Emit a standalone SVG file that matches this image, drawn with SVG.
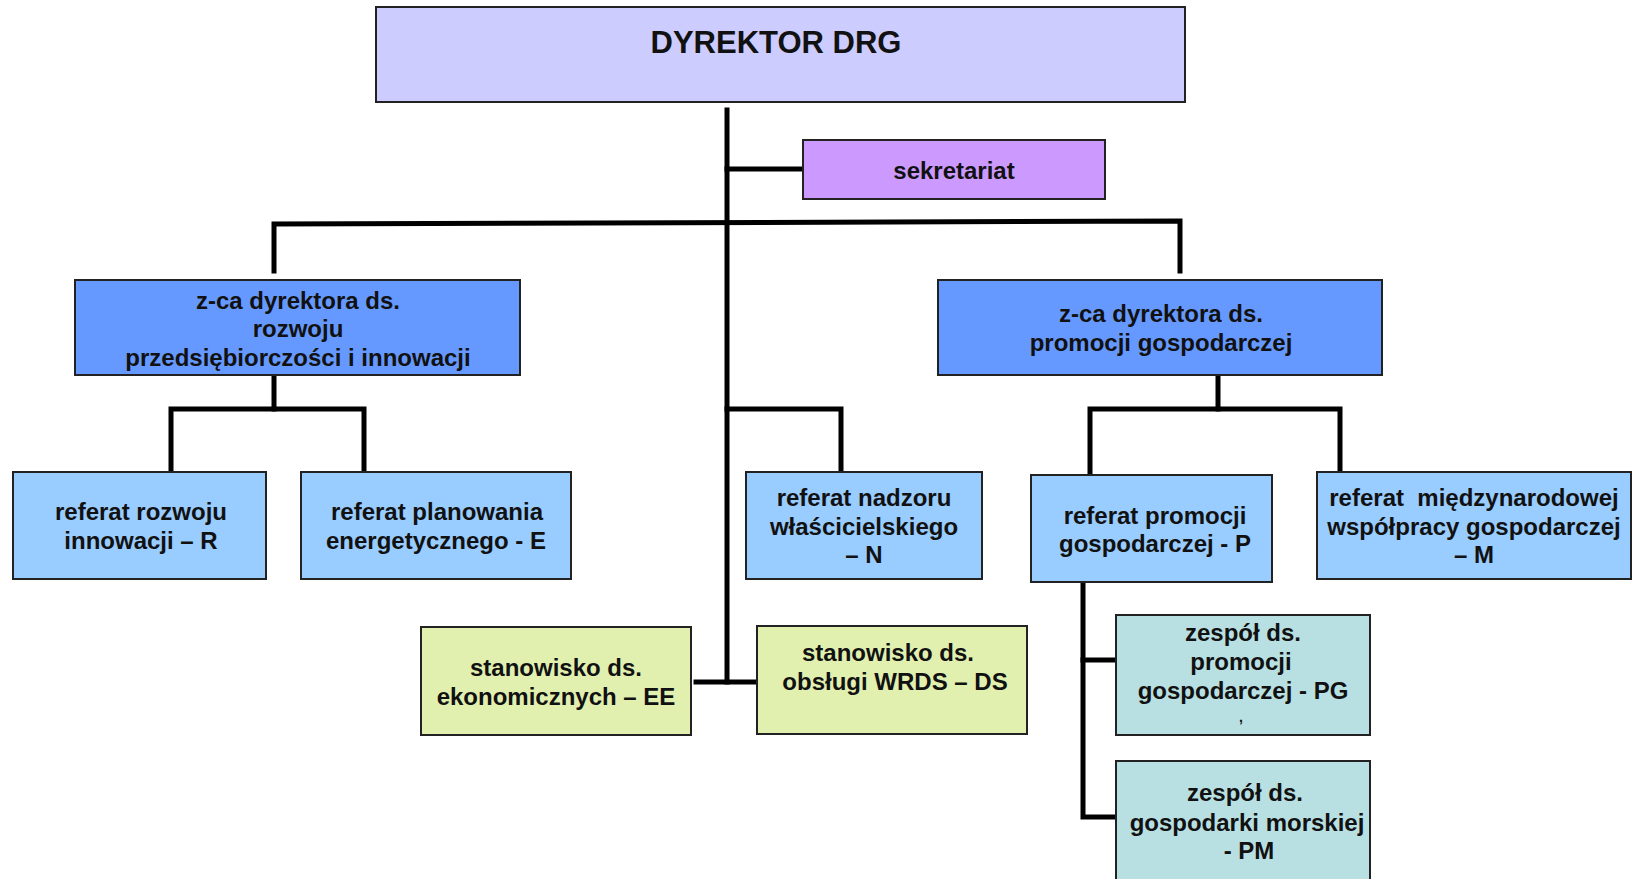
<svg xmlns="http://www.w3.org/2000/svg" width="1637" height="879" viewBox="0 0 1637 879">
<style>
.box{stroke:#222;stroke-width:2}
.t{font-family:"Liberation Sans",Arial,sans-serif;font-weight:bold;font-size:24px;fill:#111;text-anchor:middle}
.c{stroke:#000;stroke-width:5;fill:none;stroke-linecap:square}
</style>
<rect width="1637" height="879" fill="#fff"/>
<g id="connectors">
<line class="c" x1="727" y1="110" x2="727" y2="682"/>
<line class="c" x1="727" y1="169" x2="802" y2="169"/>
<polyline class="c" points="274,271 274,224 1180,221 1180,271"/>
<line class="c" x1="274" y1="376" x2="274" y2="409"/>
<polyline class="c" points="171,472 171,409 364,409 364,472"/>
<polyline class="c" points="727,409 841,409 841,476"/>
<line class="c" x1="1218" y1="376" x2="1218" y2="409"/>
<polyline class="c" points="1090,476 1090,409 1340,409 1340,472"/>
<polyline class="c" points="1083,583 1083,817 1115,817"/>
<line class="c" x1="1083" y1="660" x2="1115" y2="660"/>
<line class="c" x1="696" y1="682" x2="756" y2="682"/>
</g>
<g id="dyrektor">
<rect class="box" x="376" y="7" width="809" height="95" fill="#CCCCFF"/>
<text class="t" x="776" y="53" style="font-size:31px">DYREKTOR DRG</text>
</g>
<g id="sekretariat">
<rect class="box" x="803" y="140" width="302" height="59" fill="#CC99FF"/>
<text class="t" x="954" y="179">sekretariat</text>
</g>
<g id="zca-rozwoju">
<rect class="box" x="75" y="280" width="445" height="95" fill="#6699FF"/>
<text class="t" x="298" y="309">z-ca dyrektora ds.</text>
<text class="t" x="298" y="337">rozwoju</text>
<text class="t" x="298" y="366">przedsiębiorczości i innowacji</text>
</g>
<g id="zca-promocji">
<rect class="box" x="938" y="280" width="444" height="95" fill="#6699FF"/>
<text class="t" x="1161" y="322">z-ca dyrektora ds.</text>
<text class="t" x="1161" y="351">promocji gospodarczej</text>
</g>
<g id="referat-R">
<rect class="box" x="13" y="472" width="253" height="107" fill="#99CCFF"/>
<text class="t" x="141" y="520">referat rozwoju</text>
<text class="t" x="141" y="549">innowacji – R</text>
</g>
<g id="referat-E">
<rect class="box" x="301" y="472" width="270" height="107" fill="#99CCFF"/>
<text class="t" x="437" y="520">referat planowania</text>
<text class="t" x="436" y="549">energetycznego - E</text>
</g>
<g id="referat-N">
<rect class="box" x="746" y="472" width="236" height="107" fill="#99CCFF"/>
<text class="t" x="864" y="506">referat nadzoru</text>
<text class="t" x="864" y="535">właścicielskiego</text>
<text class="t" x="864" y="563">– N</text>
</g>
<g id="referat-P">
<rect class="box" x="1031" y="475" width="241" height="107" fill="#99CCFF"/>
<text class="t" x="1155" y="524">referat promocji</text>
<text class="t" x="1155" y="552">gospodarczej - P</text>
</g>
<g id="referat-M">
<rect class="box" x="1317" y="472" width="314" height="107" fill="#99CCFF"/>
<text class="t" x="1474" y="506" xml:space="preserve">referat  międzynarodowej</text>
<text class="t" x="1474" y="535">współpracy gospodarczej</text>
<text class="t" x="1474" y="563">– M</text>
</g>
<g id="zespol-PG">
<rect class="box" x="1116" y="615" width="254" height="120" fill="#B8E0E3"/>
<text class="t" x="1243" y="641">zespół ds.</text>
<text class="t" x="1241" y="670">promocji</text>
<text class="t" x="1243" y="699">gospodarczej - PG</text>
<text class="t" x="1241" y="722" style="font-size:14px">,</text>
</g>
<g id="zespol-PM">
<rect class="box" x="1116" y="761" width="254" height="130" fill="#B8E0E3"/>
<text class="t" x="1245" y="801">zespół ds.</text>
<text class="t" x="1247" y="831">gospodarki morskiej</text>
<text class="t" x="1249" y="859">- PM</text>
</g>
<g id="stanowisko-EE">
<rect class="box" x="421" y="627" width="270" height="108" fill="#E1F0AF"/>
<text class="t" x="556" y="676">stanowisko ds.</text>
<text class="t" x="556" y="705">ekonomicznych – EE</text>
</g>
<g id="stanowisko-DS">
<rect class="box" x="757" y="626" width="270" height="108" fill="#E1F0AF"/>
<text class="t" x="888" y="661">stanowisko ds.</text>
<text class="t" x="895" y="690">obsługi WRDS – DS</text>
</g>
</svg>
